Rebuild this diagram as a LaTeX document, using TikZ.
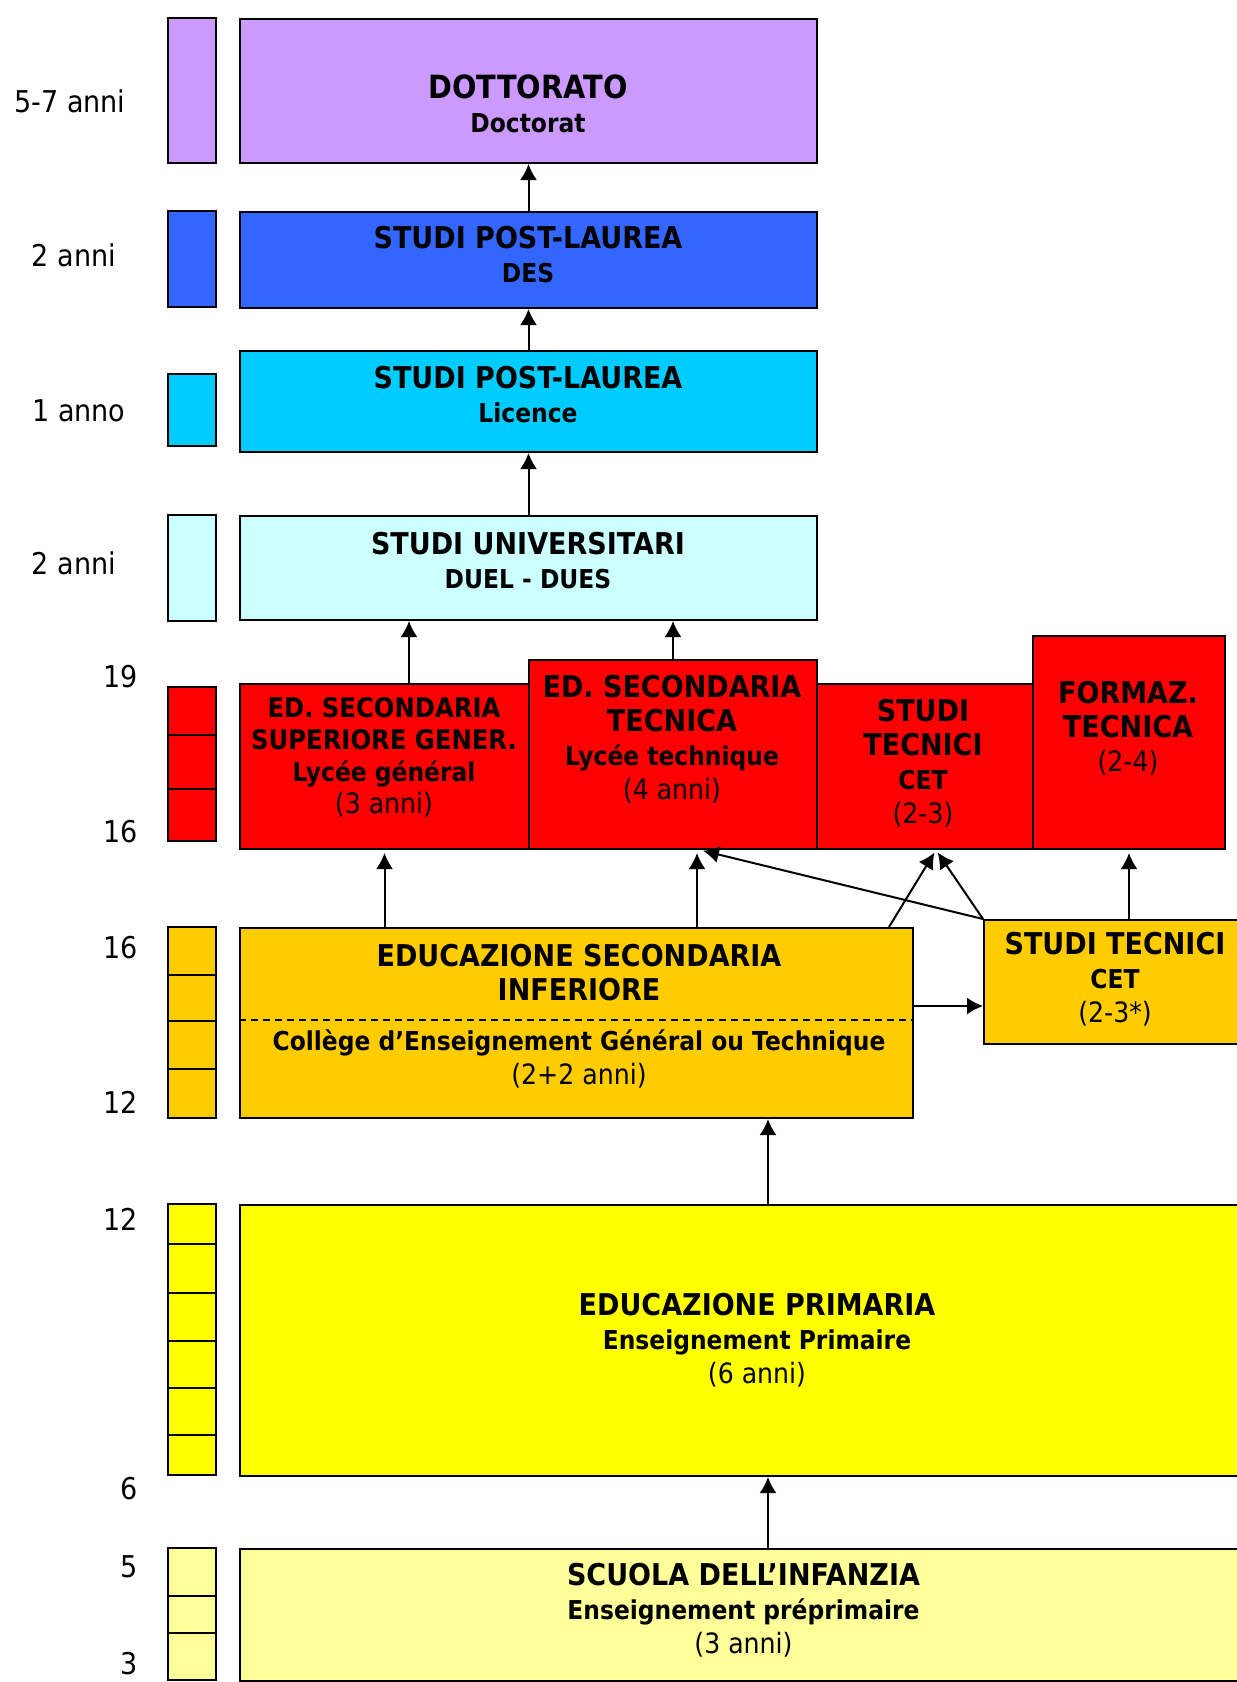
\documentclass[tikz,border=0pt]{standalone}
\usepackage{fontspec}
\setmainfont[FakeStretch=0.9]{DejaVu Sans}
\usepackage{tikz}
\usetikzlibrary{arrows.meta}

\definecolor{cdoc}{HTML}{CC99FF}
\definecolor{cdes}{HTML}{3366FF}
\definecolor{clic}{HTML}{00CCFF}
\definecolor{cuni}{HTML}{CCFFFF}
\definecolor{cred}{HTML}{FF0000}
\definecolor{cora}{HTML}{FFCC00}
\definecolor{cyel}{HTML}{FFFF00}
\definecolor{cinf}{HTML}{FFFF99}

\newcommand{\subl}[1]{{\fontsize{26}{34}\selectfont #1}}
\newcommand{\dur}[1]{{\mdseries\fontsize{28}{34}\selectfont #1}}

\begin{document}
\begin{tikzpicture}[x=1pt, y=-1pt, box/.style={draw, line width=2pt, anchor=north west, inner sep=0pt}, bar/.style={draw, line width=2pt}, txt/.style={align=center, font=\bfseries\fontsize{30}{34}\selectfont}, yr/.style={font=\fontsize{30}{34}\selectfont}, n/.style={-{Latex[length=16pt, width=17pt]}, line width=2pt}]
            \useasboundingbox (0,0) rectangle (1237,1682);
            \clip (0,0) rectangle (1237,1682);
            % year bars
            \filldraw[bar, fill=cdoc] (168,18) rectangle (216,163);
            \filldraw[bar, fill=cdes] (168,211) rectangle (216,307);
            \filldraw[bar, fill=clic] (168,374) rectangle (216,446);
            \filldraw[bar, fill=cuni] (168,515) rectangle (216,621);
            \filldraw[bar, fill=cred] (168,687) rectangle (216,841);
            \foreach \y in {735,789} \draw[bar] (168,\y) -- (216,\y);
            \filldraw[bar, fill=cora] (168,927) rectangle (216,1118);
            \foreach \y in {975,1021,1069} \draw[bar] (168,\y) -- (216,\y);
            \filldraw[bar, fill=cyel] (168,1204) rectangle (216,1475);
            \foreach \y in {1244,1293,1341,1388,1435} \draw[bar] (168,\y) -- (216,\y);
            \filldraw[bar, fill=cinf] (168,1548) rectangle (216,1680);
            \foreach \y in {1596,1633} \draw[bar] (168,\y) -- (216,\y);

            % year labels
            \node[yr] (y57) at (70,101) {5-7 anni};
            \node[yr] (y2a) at (74,255) {2 anni};
            \node[yr] (y1) at (79,411) {1 anno};
            \node[yr] (y2b) at (74,563) {2 anni};
            \node[yr, anchor=east] (a19) at (141,677) {19};
            \node[yr, anchor=east] (a16) at (141,832) {16};
            \node[yr, anchor=east] (b16) at (141,948) {16};
            \node[yr, anchor=east] (a12) at (141,1102) {12};
            \node[yr, anchor=east] (b12) at (141,1219) {12};
            \node[yr, anchor=east] (a6) at (141,1489) {6};
            \node[yr, anchor=east] (a5) at (141,1567) {5};
            \node[yr, anchor=east] (a3) at (141,1664) {3};

            % boxes
            \node[box, fill=cdoc, minimum width=577pt, minimum height=144pt] (doct) at (239,18) {};
            \node[box, fill=cdes, minimum width=577pt, minimum height=96pt] (des) at (239,211) {};
            \node[box, fill=clic, minimum width=577pt, minimum height=101pt] (lic) at (239,350) {};
            \node[box, fill=cuni, minimum width=577pt, minimum height=104pt] (univ) at (239,515) {};
            \node[box, fill=cred, minimum width=289pt, minimum height=165pt] (sup) at (239,683) {};
            \node[box, fill=cred, minimum width=288pt, minimum height=189pt] (tec) at (528,659) {};
            \node[box, fill=cred, minimum width=216pt, minimum height=165pt] (cet) at (816,683) {};
            \node[box, fill=cred, minimum width=192pt, minimum height=213pt] (form) at (1032,635) {};
            \node[box, fill=cora, minimum width=673pt, minimum height=190pt] (sec) at (239,927) {};
            \node[box, fill=cora, minimum width=264pt, minimum height=124pt] (cet2) at (983,919) {};
            \node[box, fill=cyel, minimum width=1036pt, minimum height=271pt] (prim) at (239,1204) {};
            \node[box, fill=cinf, minimum width=1009pt, minimum height=132pt] (inf) at (239,1548) {};
            \draw[dashed, dash pattern=on 7pt off 5pt, line width=1.5pt] ([yshift=3pt]sec.west) -- ([yshift=3pt]sec.east);

            % texts
            \node[txt] (doctT) at (528,103.5) {{\fontsize{32}{35}\selectfont DOTTORATO}\\ \subl{Doctorat}};
            \node[txt] (desT) at (528,255) {STUDI POST-LAUREA\\ \subl{DES}};
            \node[txt] (licT) at (528,395) {STUDI POST-LAUREA\\ \subl{Licence}};
            \node[txt] (univT) at (528,561) {STUDI UNIVERSITARI\\ \subl{DUEL - DUES}};
            \node[txt, font=\bfseries\fontsize{27}{32}\selectfont] (supT) at (384,757.5) {ED. SECONDARIA\\ SUPERIORE GENER.\\ \subl{Lycée général}\\ \dur{(3 anni)}};
            \node[txt] (tecT) at (672,739) {ED. SECONDARIA\\ TECNICA\\ \subl{Lycée technique}\\ \dur{(4 anni)}};
            \node[txt] (cetT) at (923,763) {STUDI\\ TECNICI\\ \subl{CET}\\ \dur{(2-3)}};
            \node[txt] (formT) at (1128,728.5) {FORMAZ.\\ TECNICA\\ \dur{(2-4)}};
            \node[txt] (secT) at (579,972.5) {EDUCAZIONE SECONDARIA\\ INFERIORE};
            \node[txt] (secS) at (579,1059) {\subl{Collège d’Enseignement Général ou Technique}\\ \dur{(2+2 anni)}};
            \node[txt] (cet2T) at (1115,979) {STUDI TECNICI\\ \subl{CET}\\ \dur{(2-3*)}};
            \node[txt] (primT) at (757,1340) {EDUCAZIONE PRIMARIA\\ \subl{Enseignement Primaire}\\ \dur{(6 anni)}};
            \node[txt] (infT) at (743.5,1610) {SCUOLA DELL’INFANZIA\\ \subl{Enseignement préprimaire}\\ \dur{(3 anni)}};

            % edges
            \draw[n] (des) -- (doct);
            \draw[n] (lic) -- (des);
            \draw[n] (univ) -- (lic);
            \draw[n] ([xshift=24.5pt]sup.north) -- ([xshift=24.5pt]sup.north |- univ.south);
            \draw[n] (tec.north) -- (tec.north |- univ.south);
            \draw[n, shorten >=3pt] (sec.north -| sup.south) -- (sup.south);
            \draw[n, shorten >=3pt] ([xshift=24pt]tec.south |- sec.north) -- ([xshift=24pt]tec.south);
            \draw[n, shorten >=3pt] ([xshift=-25pt]sec.north east) -- ([xshift=11pt]cet.south);
            \draw[n, shorten >=3pt] (cet2.north west) -- ([xshift=11pt]cet.south);
            \draw[n, shorten >=3pt] (cet2.north west) -- ([xshift=27pt]tec.south);
            \draw[n, shorten >=3pt] (cet2.north -| form.south) -- (form.south);
            \draw[n] ([yshift=17pt]sec.east) -- ([yshift=17pt]sec.east -| cet2.west);
            \draw[n] ([xshift=10pt]prim.north) -- ([xshift=10pt]prim.north |- sec.south);
            \draw[n] ([xshift=23.5pt]inf.north) -- ([xshift=23.5pt]inf.north |- prim.south);
        \end{tikzpicture}
\end{document}
